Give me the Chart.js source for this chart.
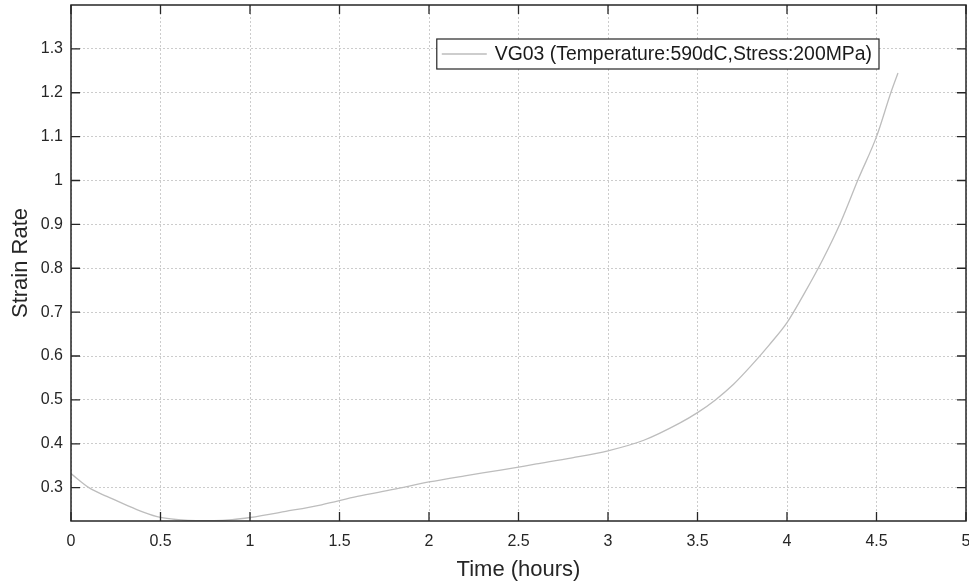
<!DOCTYPE html>
<html>
<head>
<meta charset="utf-8">
<script src="https://cdn.jsdelivr.net/npm/chart.js@4.4.0/dist/chart.umd.min.js"></script>
<style>
  html, body { margin: 0; padding: 0; background: #fff; }
  #wrap { width: 969px; height: 588px; position: relative; }
</style>
</head>
<body>
<div id="wrap"><canvas id="strainChart"></canvas></div>
<script>
// values
var hours = [0, 0.1, 0.2, 0.3, 0.4, 0.5, 0.6, 0.7, 0.8, 0.9, 1.0, 1.2, 1.4, 1.6, 1.8, 2.0, 2.2, 2.4, 2.6, 2.8, 3.0,
             3.2, 3.4, 3.5, 3.6, 3.7, 3.8, 3.9, 4.0, 4.1, 4.2, 4.3, 4.4, 4.5, 4.58, 4.62];
var strainRate = [0.332, 0.300, 0.280, 0.262, 0.245, 0.232, 0.227, 0.225, 0.225, 0.227, 0.232, 0.246, 0.261, 0.280,
                  0.296, 0.313, 0.327, 0.340, 0.354, 0.368, 0.384, 0.408, 0.447, 0.471, 0.500, 0.535, 0.578, 0.625,
                  0.676, 0.745, 0.820, 0.905, 1.005, 1.100, 1.200, 1.245];
var xTickValues = [0, 0.5, 1, 1.5, 2, 2.5, 3, 3.5, 4, 4.5, 5];
var yTickValues = [0.3, 0.4, 0.5, 0.6, 0.7, 0.8, 0.9, 1, 1.1, 1.2, 1.3];
var seriesName = 'VG03 (Temperature:590dC,Stress:200MPa)';

var fontFamily = "'Liberation Sans', Arial, sans-serif";
var inkColor = '#262626';
var curveColor = '#bdbdbd';

var points = hours.map(function (h, i) { return { x: h, y: strainRate[i] }; });

function fmt(v) { return String(+v.toFixed(2)); }

// matlab style box, inward ticks and legend
var boxPlugin = {
    id: 'boxPlugin',
    afterDraw: function (chart) {
        var ctx = chart.ctx;
        var a = chart.chartArea;
        var xs = chart.scales.x, ys = chart.scales.y;
        var tl = 9;
        ctx.save();
        ctx.strokeStyle = inkColor;
        ctx.lineWidth = 1.5;
        ctx.strokeRect(a.left, a.top, a.right - a.left, a.bottom - a.top);
        ctx.lineWidth = 1.3;
        ctx.beginPath();
        xTickValues.forEach(function (v) {
            var px = xs.getPixelForValue(v);
            ctx.moveTo(px, a.bottom); ctx.lineTo(px, a.bottom - tl);
            ctx.moveTo(px, a.top); ctx.lineTo(px, a.top + tl);
        });
        yTickValues.forEach(function (v) {
            var py = ys.getPixelForValue(v);
            ctx.moveTo(a.left, py); ctx.lineTo(a.left + tl, py);
            ctx.moveTo(a.right, py); ctx.lineTo(a.right - tl, py);
        });
        ctx.stroke();

        // legend
        var label = chart.data.datasets[0].label;
        ctx.font = '19.4px ' + fontFamily;
        var tw = ctx.measureText(label).width;
        var boxRight = a.right - 87;
        var boxW = tw + 65;
        var boxLeft = boxRight - boxW;
        var boxTop = a.top + 34, boxH = 30;
        ctx.fillStyle = '#fff';
        ctx.fillRect(boxLeft, boxTop, boxW, boxH);
        ctx.lineWidth = 1.2;
        ctx.strokeStyle = inkColor;
        ctx.strokeRect(boxLeft, boxTop, boxW, boxH);
        ctx.strokeStyle = curveColor;
        ctx.lineWidth = 1.3;
        ctx.beginPath();
        ctx.moveTo(boxLeft + 5, boxTop + boxH / 2);
        ctx.lineTo(boxLeft + 50, boxTop + boxH / 2);
        ctx.stroke();
        ctx.fillStyle = '#1a1a1a';
        ctx.textBaseline = 'middle';
        ctx.textAlign = 'left';
        ctx.fillText(label, boxLeft + 58, boxTop + boxH / 2 + 1);
        ctx.restore();
    }
};

var ctx = document.getElementById('strainChart');
var chart = new Chart(ctx, {
    type: 'line',
    data: {
        datasets: [{
            label: seriesName,
            data: points,
            borderColor: curveColor,
            borderWidth: 1.3,
            pointRadius: 0,
            fill: false,
            cubicInterpolationMode: 'monotone'
        }]
    },
    options: {
        responsive: true,
        maintainAspectRatio: false,
        animation: false,
        layout: { autoPadding: false, padding: { top: 5, right: 3, left: 0, bottom: 0 } },
        plugins: { legend: { display: false }, tooltip: { enabled: false } },
        scales: {
            x: {
                type: 'linear',
                min: 0,
                max: 5,
                afterBuildTicks: function (s) { s.ticks = xTickValues.map(function (v) { return { value: v }; }); },
                afterFit: function (s) { s.height = 67; s.paddingLeft = 0; s.paddingRight = 0; },
                grid: { color: 'rgba(0,0,0,0.2)', lineWidth: 1, drawTicks: false },
                border: { display: false, dash: [2, 2] },
                ticks: {
                    padding: 11,
                    color: inkColor,
                    font: { family: fontFamily, size: 16 },
                    maxRotation: 0,
                    callback: function (v) { return fmt(v); }
                },
                title: {
                    display: true,
                    text: 'Time (hours)',
                    color: inkColor,
                    font: { family: fontFamily, size: 22 },
                    padding: { top: 0, bottom: 5 }
                }
            },
            y: {
                type: 'linear',
                min: 0.224,
                max: 1.40,
                afterBuildTicks: function (s) { s.ticks = yTickValues.map(function (v) { return { value: v }; }); },
                afterFit: function (s) { s.width = 71; s.paddingTop = 0; s.paddingBottom = 0; },
                grid: { color: 'rgba(0,0,0,0.2)', lineWidth: 1, drawTicks: false },
                border: { display: false, dash: [2, 2] },
                ticks: {
                    padding: 8,
                    color: inkColor,
                    font: { family: fontFamily, size: 16 },
                    callback: function (v) { return fmt(v); }
                },
                title: {
                    display: true,
                    text: 'Strain Rate',
                    color: inkColor,
                    font: { family: fontFamily, size: 22 },
                    padding: { top: 8, bottom: 0 }
                }
            }
        }
    },
    plugins: [boxPlugin]
});
</script>
</body>
</html>
